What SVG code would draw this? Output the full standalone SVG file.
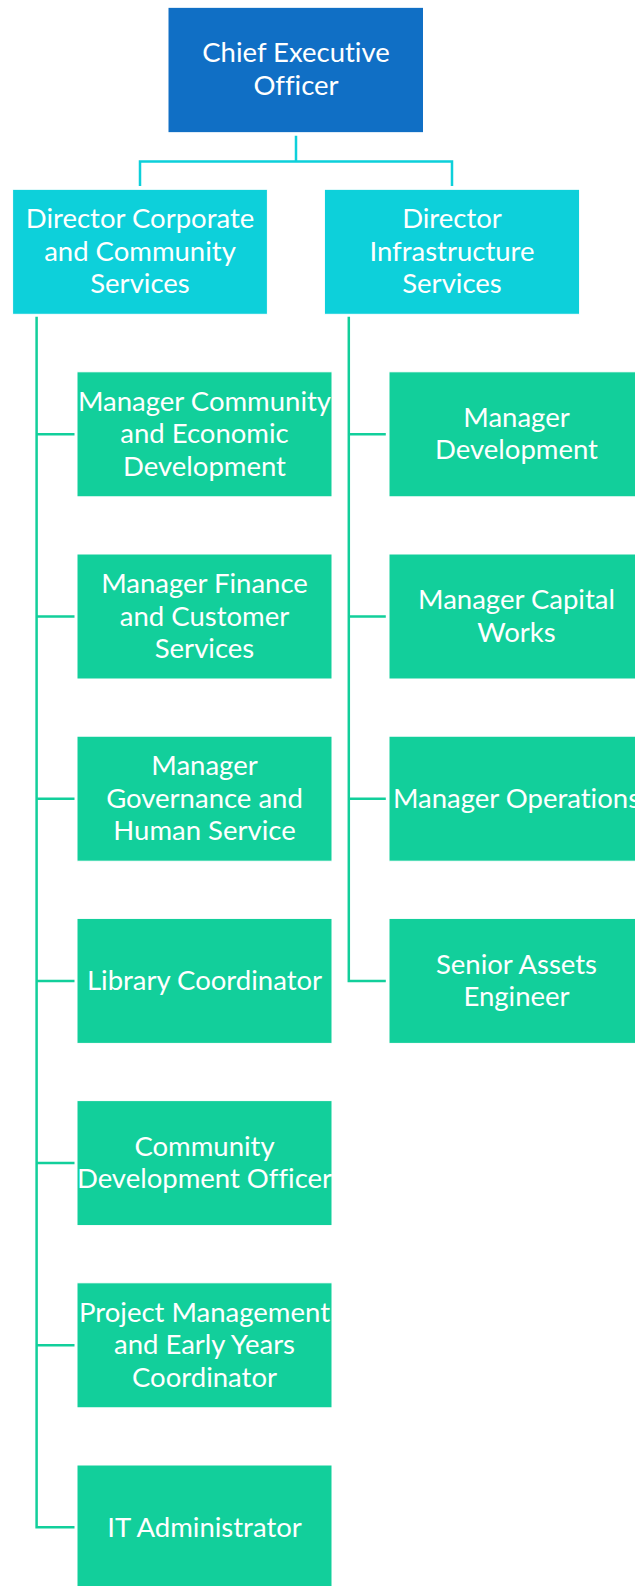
<svg xmlns="http://www.w3.org/2000/svg" width="635" height="1586" viewBox="0 0 635 1586">
<style>
.box{stroke:#ffffff;stroke-width:1}
.ceo{fill:#106FC5}
.dir{fill:#0DD0DA}
.mgr{fill:#12CF9B}
text{font-family:Lato,"Open Sans","Liberation Sans",sans-serif;font-size:27.5px;fill:#ffffff;text-anchor:middle;font-variant-ligatures:none}
.c1{fill:none;stroke:#0DD0DA;stroke-width:2.5}
.c2{fill:none;stroke:#12CF9B;stroke-width:2.5}
</style>
<rect width="635" height="1586" fill="#ffffff"/>
<g id="connectors">
<path class="c1" d="M296,135.7 V161.5 M140,186 V161.5 H452 V186"/>
<path class="c2" d="M36.6,316.7 V1527.3 H74.5"/>
<path class="c2" d="M36.6,434.3 H74.5 M36.6,616.5 H74.5 M36.6,798.7 H74.5 M36.6,980.9 H74.5 M36.6,1163.1 H74.5 M36.6,1345.3 H74.5"/>
<path class="c2" d="M348.8,316.7 V980.9 H385.8"/>
<path class="c2" d="M348.8,434.3 H385.8 M348.8,616.5 H385.8 M348.8,798.7 H385.8"/>
</g>
<g id="ceo"><rect class="box ceo" x="168" y="7.3" width="255.5" height="125.4"/>
<text x="296" y="61.7">Chief Executive</text><text x="296" y="95">Officer</text></g>
<g id="dir-corporate"><rect class="box dir" x="12.6" y="189.3" width="254.8" height="125"/>
<text x="140" y="228.3">Director Corporate</text><text x="140" y="260.6">and Community</text><text x="140" y="292.9">Services</text></g>
<g id="dir-infrastructure"><rect class="box dir" x="324.4" y="189.3" width="255.2" height="125"/>
<text x="452" y="228.3">Director</text><text x="452" y="260.6">Infrastructure</text><text x="452" y="292.9">Services</text></g>

<g id="mgr-community"><rect class="box mgr" x="77" y="371.8" width="255" height="125"/>
<text x="204.5" y="411">Manager Community</text><text x="204.5" y="443.3">and Economic</text><text x="204.5" y="475.6">Development</text></g>
<g id="mgr-finance"><rect class="box mgr" x="77" y="554" width="255" height="125"/>
<text x="204.5" y="593.2">Manager Finance</text><text x="204.5" y="625.5">and Customer</text><text x="204.5" y="657.8">Services</text></g>
<g id="mgr-governance"><rect class="box mgr" x="77" y="736.2" width="255" height="125"/>
<text x="204.5" y="775.4">Manager</text><text x="204.5" y="807.7">Governance and</text><text x="204.5" y="840">Human Service</text></g>
<g id="library"><rect class="box mgr" x="77" y="918.4" width="255" height="125"/>
<text x="204.5" y="989.9">Library Coordinator</text></g>
<g id="cdo"><rect class="box mgr" x="77" y="1100.6" width="255" height="125"/>
<text x="204.5" y="1155.9">Community</text><text x="204.5" y="1188.2">Development Officer</text></g>
<g id="project"><rect class="box mgr" x="77" y="1282.8" width="255" height="125"/>
<text x="204.5" y="1322">Project Management</text><text x="204.5" y="1354.3">and Early Years</text><text x="204.5" y="1386.6">Coordinator</text></g>
<g id="it"><rect class="box mgr" x="77" y="1465" width="255" height="125"/>
<text x="204.5" y="1536.5">IT Administrator</text></g>

<g id="mgr-development"><rect class="box mgr" x="389" y="371.8" width="255" height="125"/>
<text x="516.5" y="427.1">Manager</text><text x="516.5" y="459.4">Development</text></g>
<g id="mgr-capital"><rect class="box mgr" x="389" y="554" width="255" height="125"/>
<text x="516.5" y="609.3">Manager Capital</text><text x="516.5" y="641.6">Works</text></g>
<g id="mgr-operations"><rect class="box mgr" x="389" y="736.2" width="255" height="125"/>
<text x="516.5" y="807.7">Manager Operations</text></g>
<g id="senior-assets"><rect class="box mgr" x="389" y="918.4" width="255" height="125"/>
<text x="516.5" y="973.7">Senior Assets</text><text x="516.5" y="1006">Engineer</text></g>
</svg>
